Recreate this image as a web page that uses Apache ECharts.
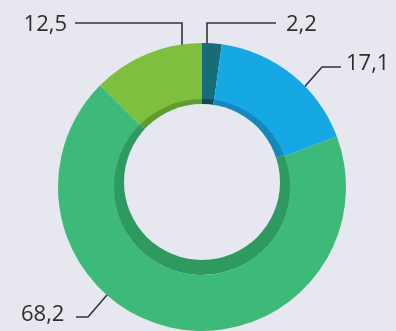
<!DOCTYPE html>
<html>
<head>
<meta charset="utf-8">
<script src="https://cdn.jsdelivr.net/npm/echarts@6/dist/echarts.min.js"></script>
<style>
html,body{margin:0;padding:0;background:#e7e8ef;}
#c{width:396px;height:331px;}
</style>
</head>
<body>
<div id="c"></div>
<script>
// Data
const categories = ['A', 'B', 'C', 'D'];
const values = [2.2, 17.1, 68.2, 12.5];
const centerText = 'Anno 2014';

// Styles
const colors = ['#166c78', '#15a8e4', '#3dba7a', '#7fbf40'];
const darkColors = ['#0e4a55', '#1688bd', '#2e9a5f', '#5f9c30'];
const bg = '#e7e8ef';
const textColor = '#2e2e2e';

// Label placement (annotation layout)
const labelLayoutCfg = [
  { x: 286, y: 25, align: 'left', pts: [[207, 56], [207, 23], [276, 23]] },
  { x: 346, y: 64, align: 'left', pts: [[300, 92], [322, 67], [341, 67]] },
  { x: 21, y: 315, align: 'left', pts: [[113, 288], [88, 317], [76, 317]] },
  { x: 67, y: 25, align: 'right', pts: [[182, 56], [182, 23], [75, 23]] }
];

const fmt = v => String(v).replace('.', ',');

const chart = echarts.init(document.getElementById('c'));
chart.setOption({
  backgroundColor: bg,
  animation: false,
  series: [
    {
      type: 'pie',
      center: [202, 186],
      radius: [0, 89],
      startAngle: 90,
      silent: true,
      label: { show: false },
      labelLine: { show: false },
      data: categories.map((c, i) => ({ name: c, value: values[i], itemStyle: { color: darkColors[i] } }))
    },
    {
      type: 'pie',
      center: [202, 182],
      radius: [0, 78],
      silent: true,
      label: { show: false },
      labelLine: { show: false },
      data: [{ value: 1, itemStyle: { color: bg } }]
    },
    {
      type: 'pie',
      center: [202, 187],
      radius: [88, 144],
      startAngle: 90,
      silent: true,
      itemStyle: { borderWidth: 0 },
      label: {
        show: true,
        position: 'outside',
        formatter: p => fmt(p.value),
        color: textColor,
        fontFamily: 'Open Sans',
        fontSize: 22
      },
      labelLine: { show: true, lineStyle: { color: '#333', width: 1.6 } },
      labelLayout: function (params) {
        const c = labelLayoutCfg[params.dataIndex];
        return { x: c.x, y: c.y, align: c.align, verticalAlign: 'middle', labelLinePoints: c.pts };
      },
      data: categories.map((c, i) => ({ name: c, value: values[i], itemStyle: { color: colors[i] } }))
    }
  ],
  graphic: [{
    type: 'text',
    x: 203,
    y: 185,
    style: {
      text: centerText,
      fill: textColor,
      font: '23px "Open Sans"',
      textAlign: 'center',
      textVerticalAlign: 'middle'
    }
  }]
});
</script>
</body>
</html>
